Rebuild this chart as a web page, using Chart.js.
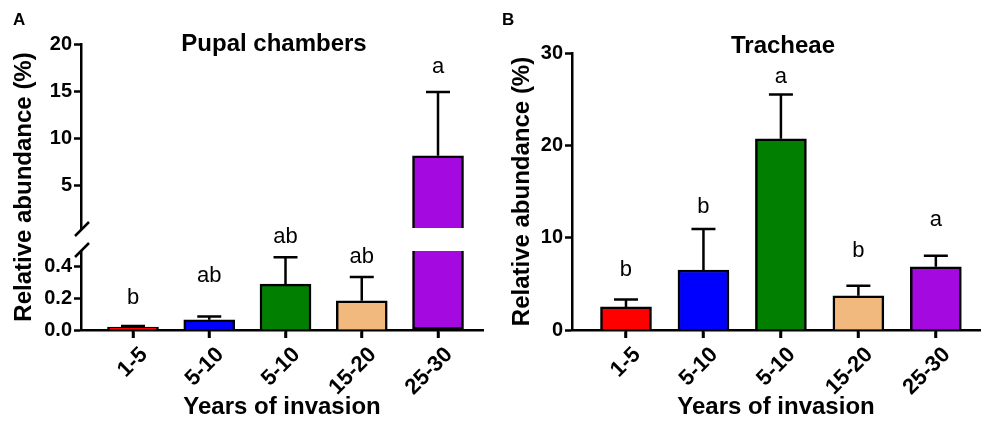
<!DOCTYPE html>
<html>
<head>
<meta charset="utf-8">
<script src="https://cdn.jsdelivr.net/npm/chart.js@4.4.1/dist/chart.umd.min.js"></script>
<style>
  body { margin: 0; background: #fff; width: 982px; height: 423px; overflow: hidden; position: relative;
         font-family: "Liberation Sans", Arial, sans-serif; color: #000; }
  canvas { position: absolute; top: 0; }
  .tag { position: absolute; font-weight: bold; font-size: 17px; line-height: 17px; }
  .title { position: absolute; font-weight: bold; font-size: 24px; line-height: 24px; text-align: center; width: 260px; }
</style>
</head>
<body>
<canvas id="pupal" width="491" height="423" style="left:0"></canvas>
<canvas id="tracheae" width="491" height="423" style="left:491px"></canvas>
<div class="tag" style="left:13px;top:11px">A</div>
<div class="tag" style="left:502px;top:11px">B</div>
<div class="title" style="left:144px;top:31px">Pupal chambers</div>
<div class="title" style="left:653px;top:33px">Tracheae</div>
<script>
const categories = ['1-5', '5-10', '5-10', '15-20', '25-30'];
const barColors = ['#ff0000', '#0000ff', '#007f00', '#f2b97f', '#a40ae0'];

// A: pupal chambers, mean and SE (%)
const pupalMeans = [0.018, 0.065, 0.29, 0.185, 8.15];
const pupalErrors = [0.008, 0.02, 0.17, 0.15, 6.75];
const pupalLetters = ['b', 'ab', 'ab', 'ab', 'a'];
const pupalLetterY = [0.2, 0.34, 0.59, 0.465, 17.55];
const pupalLowTicks = [0, 0.2, 0.4];
const pupalHighTicks = [5, 10, 15, 20];
const lowMax = 0.5;   // top of the lower segment
const highMin = 0.5;  // bottom of the upper segment
const highMax = 20;

// B: tracheae
const tracheaeMeans = [2.5, 6.5, 20.7, 3.7, 6.85];
const tracheaeErrors = [0.8, 4.45, 4.8, 1.1, 1.2];
const tracheaeLetters = ['b', 'b', 'a', 'b', 'a'];
const tracheaeLetterY = [6.5, 13.3, 27.4, 8.55, 11.9];
const tracheaeTicks = [0, 10, 20, 30];

Chart.defaults.font.family = '"Liberation Sans", Arial, sans-serif';
Chart.defaults.color = '#000';

const LW = 2.5;
const axisBorder = { display: true, color: '#000', width: LW };
const axisGrid = { display: true, offset: false, drawOnChartArea: false, drawTicks: true, tickLength: 7, tickWidth: LW, tickColor: '#000' };
const tickFont = { size: 20, weight: 'bold' };

// error bars (upper half only), significance letters and axis break marks
const sigPlugin = {
    id: 'sig',
    afterDatasetsDraw(chart, args, opts) {
        const ctx = chart.ctx;
        const xs = chart.scales.x;
        ctx.save();
        ctx.strokeStyle = '#000';
        ctx.fillStyle = '#000';
        ctx.lineWidth = LW;
        ctx.font = '22px "Liberation Sans", Arial, sans-serif';
        ctx.textAlign = 'center';
        ctx.textBaseline = 'middle';
        opts.means.forEach((m, i) => {
            const ys = chart.scales[opts.scaleFor(m)];
            const px = xs.getPixelForValue(i);
            const top = ys.getPixelForValue(m);
            const cap = ys.getPixelForValue(m + opts.errors[i]);
            ctx.beginPath();
            ctx.moveTo(px, top);
            ctx.lineTo(px, cap);
            ctx.moveTo(px - 12, cap);
            ctx.lineTo(px + 12, cap);
            ctx.stroke();
            ctx.fillText(opts.letters[i], px, ys.getPixelForValue(opts.letterY[i]));
        });
        if (opts.breaks) {
            const bx = chart.chartArea.left + 1;
            [chart.scales.yHigh.bottom + 1, chart.scales.yLow.top - 1].forEach(by => {
                ctx.beginPath();
                ctx.moveTo(bx - 7, by + 7);
                ctx.lineTo(bx + 7, by - 7);
                ctx.stroke();
            });
        }
        ctx.restore();
    },
    afterDraw(chart) {
        // category tick marks under the x axis
        const ctx = chart.ctx;
        const xs = chart.scales.x;
        const y0 = chart.chartArea.bottom;
        ctx.save();
        ctx.strokeStyle = '#000';
        ctx.lineWidth = LW;
        xs.ticks.forEach(t => {
            const px = Math.round(xs.getPixelForValue(t.value));
            ctx.beginPath();
            ctx.moveTo(px, y0);
            ctx.lineTo(px, y0 + 8);
            ctx.stroke();
        });
        ctx.restore();
    }
};

function xScale(min, max) {
    return {
        type: 'linear', min: min, max: max, offset: false, z: 1,
        afterBuildTicks: s => { s.ticks = categories.map((c, i) => ({ value: i })); },
        ticks: {
            callback: v => categories[v], autoSkip: false,
            minRotation: 45, maxRotation: 45, labelOffset: 11, padding: 4,
            font: { size: 22, weight: 'bold' }, color: '#000'
        },
        grid: Object.assign({}, axisGrid, { tickLength: 8 }),
        border: axisBorder,
        title: { display: true, text: 'Years of invasion', font: { size: 24, weight: 'bold' }, padding: { top: 0, bottom: 1 } },
        afterFit: s => { s.height = 93; }
    };
}

new Chart(document.getElementById('pupal'), {
    type: 'bar',
    data: {
        datasets: [{
            data: pupalMeans.map((v, i) => ({ x: i, y: Math.min(v, lowMax) })),
            yAxisID: 'yLow',
            backgroundColor: barColors,
            borderColor: '#000',
            borderWidth: LW,
            barThickness: 51,
            grouped: false,
            borderSkipped: c => pupalMeans[c.dataIndex] > lowMax ? 'top' : 'start'
        }, {
            data: pupalMeans.map((v, i) => ({ x: i, y: v > lowMax ? v : null })),
            yAxisID: 'yHigh',
            backgroundColor: barColors,
            borderColor: '#000',
            borderWidth: LW,
            barThickness: 51,
            grouped: false
        }]
    },
    options: {
        responsive: false,
        animation: false,
        layout: { padding: { left: 0, right: 8, top: 44, bottom: 0 } },
        plugins: {
            legend: { display: false },
            tooltip: { enabled: false },
            sig: {
                means: pupalMeans, errors: pupalErrors, letters: pupalLetters, letterY: pupalLetterY,
                scaleFor: m => m > lowMax ? 'yHigh' : 'yLow', breaks: true
            }
        },
        scales: {
            x: xScale(-0.682, 4.59),
            yTitle: {
                position: 'left', weight: 1, min: 0, max: 1,
                grid: { display: false }, border: { display: false }, ticks: { display: false },
                title: { display: true, text: 'Relative abundance (%)', font: { size: 24, weight: 'bold' }, padding: { top: 10, bottom: 0 } },
                afterFit: s => { s.width = 42; }
            },
            yLow: {
                position: 'left', stack: 'pupal', stackWeight: 79, min: 0, max: lowMax,
                afterBuildTicks: s => { s.ticks = pupalLowTicks.map(v => ({ value: v })); },
                ticks: { callback: v => v.toFixed(1), autoSkip: false, font: tickFont, color: '#000', padding: 2 },
                grid: axisGrid, border: axisBorder,
                afterFit: s => { s.width = 39; }
            },
            yGap: {
                position: 'left', stack: 'pupal', stackWeight: 23,
                grid: { display: false }, border: { display: false }, ticks: { display: false },
                afterFit: s => { s.width = 39; }
            },
            yHigh: {
                position: 'left', stack: 'pupal', stackWeight: 184, min: highMin, max: highMax,
                afterBuildTicks: s => { s.ticks = pupalHighTicks.map(v => ({ value: v })); },
                ticks: { autoSkip: false, font: tickFont, color: '#000', padding: 2 },
                grid: axisGrid, border: axisBorder,
                afterFit: s => { s.width = 39; }
            }
        }
    },
    plugins: [sigPlugin]
});

new Chart(document.getElementById('tracheae'), {
    type: 'bar',
    data: {
        datasets: [{
            data: tracheaeMeans.map((v, i) => ({ x: i, y: v })),
            backgroundColor: barColors,
            borderColor: '#000',
            borderWidth: LW,
            barThickness: 51
        }]
    },
    options: {
        responsive: false,
        animation: false,
        layout: { padding: { left: 0, right: 2, top: 53, bottom: 0 } },
        plugins: {
            legend: { display: false },
            tooltip: { enabled: false },
            sig: {
                means: tracheaeMeans, errors: tracheaeErrors, letters: tracheaeLetters, letterY: tracheaeLetterY,
                scaleFor: () => 'y', breaks: false
            }
        },
        scales: {
            x: xScale(-0.697, 4.57),
            y: {
                position: 'left', min: 0, max: 30,
                afterBuildTicks: s => { s.ticks = tracheaeTicks.map(v => ({ value: v })); },
                ticks: { autoSkip: false, font: tickFont, color: '#000', padding: 2 },
                grid: axisGrid, border: axisBorder,
                title: { display: true, text: 'Relative abundance (%)', font: { size: 24, weight: 'bold' }, padding: { top: 17, bottom: 0 } },
                afterFit: s => { s.width = 81; }
            }
        }
    },
    plugins: [sigPlugin]
});
</script>
</body>
</html>
